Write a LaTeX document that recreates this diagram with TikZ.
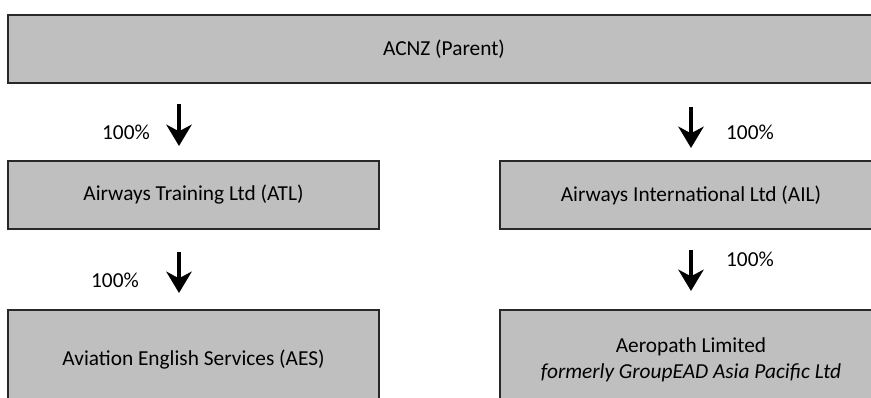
\documentclass[tikz,border=0pt]{standalone}
\usepackage{fontspec}
\setmainfont{Carlito}
\usetikzlibrary{arrows.meta}
\definecolor{boxgray}{RGB}{191,191,191}
\definecolor{boxline}{RGB}{40,40,40}
\begin{document}
\begin{tikzpicture}[x=0.75pt,y=-0.75pt,
  box/.style={draw=boxline, line width=1.5pt, fill=boxgray, inner sep=0pt, align=center, font=\fontsize{16}{19.5}\selectfont},
  own/.style={line width=3.2pt, -{Stealth[length=16pt, width=19pt, inset=5pt]}},
  pct/.style={inner sep=0pt, font=\fontsize{16}{19.5}\selectfont}]
\useasboundingbox (0,0) rectangle (871,397);
% boxes
\node[box, minimum width=654pt, minimum height=51pt] (acnz) at (444,49) {ACNZ (Parent)};
\node[box, minimum width=278pt, minimum height=51pt] (atl) at (193.5,195) {Airways Training Ltd (ATL)};
\node[box, minimum width=286.5pt, minimum height=51pt] (ail) at (691,195) {Airways International Ltd (AIL)};
\node[box, minimum width=278pt, minimum height=75pt] (aes) at (193.5,360) {Aviation English Services (AES)};
\node[box, minimum width=286.5pt, minimum height=75pt] (aero) at (691,360) {Aeropath Limited\\\textit{formerly GroupEAD Asia Pacific Ltd}};
% arrows
\coordinate (a1s) at (179,104); \coordinate (a1e) at (179,146);
\coordinate (a2s) at (691,107); \coordinate (a2e) at (691,148);
\coordinate (a3s) at (179,252); \coordinate (a3e) at (179,293);
\coordinate (a4s) at (691,250); \coordinate (a4e) at (691,291);
\draw[own] (a1s) -- (a1e);
\draw[own] (a2s) -- (a2e);
\draw[own] (a3s) -- (a3e);
\draw[own] (a4s) -- (a4e);
% labels
\node[pct] (l1) at (126,132) {100\%};
\node[pct] (l2) at (750,132) {100\%};
\node[pct] (l3) at (115,280) {100\%};
\node[pct] (l4) at (750,259) {100\%};
\end{tikzpicture}
\end{document}
